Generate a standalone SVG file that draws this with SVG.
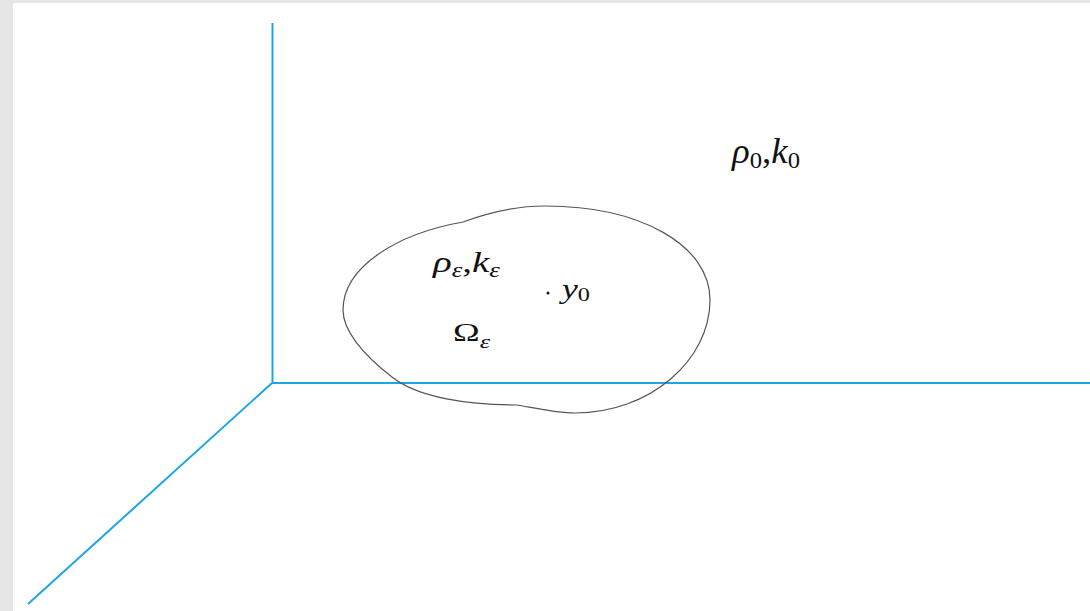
<svg xmlns="http://www.w3.org/2000/svg" width="1090" height="611" viewBox="0 0 1090 611">
<style>
.ax{stroke:#1fa5e0;stroke-width:2;fill:none}
.blob{stroke:#555;stroke-width:1.2;fill:none}
.t{font-family:"Liberation Serif",serif;fill:#111}
.i{font-style:italic}
</style>
<rect width="1090" height="611" fill="#e6e6e6"/>
<rect x="13" y="3" width="1077" height="608" fill="#fff"/>
<g id="axes">
<line class="ax" x1="272.5" y1="23" x2="272.5" y2="383"/>
<line class="ax" x1="272" y1="383" x2="1090" y2="383"/>
<line class="ax" x1="272" y1="383" x2="28" y2="604" stroke-width="1.6"/>
</g>
<g id="region">
<path class="blob" d="M343,310 C343,268 395,234 463,222 C490,212 515,206 545,206 C640,206 710,245 710,300 C710,360 650,413 575,413 C555,413 530,407 517,405 C470,405 418,398 392,377 C362,354 343,330 343,310 Z"/>
</g>
<g id="labels">
<text class="t" x="433" y="272" font-size="29" textLength="67" lengthAdjust="spacingAndGlyphs"><tspan class="i">ρ</tspan><tspan class="i" font-size="20" dy="5">ε</tspan><tspan dy="-5">,</tspan><tspan class="i">k</tspan><tspan class="i" font-size="20" dy="5">ε</tspan></text>
<text class="t" x="453" y="341" font-size="26" textLength="37" lengthAdjust="spacingAndGlyphs">Ω<tspan class="i" font-size="19" dy="7">ε</tspan></text>
<circle cx="548" cy="293" r="1.5" fill="#111"/>
<text class="t" x="562" y="298" font-size="28" textLength="28" lengthAdjust="spacingAndGlyphs"><tspan class="i">y</tspan><tspan font-size="19" dy="3">0</tspan></text>
<text class="t" x="732" y="163" font-size="36" textLength="68" lengthAdjust="spacingAndGlyphs"><tspan class="i">ρ</tspan><tspan font-size="24" dy="5">0</tspan><tspan dy="-5">,</tspan><tspan class="i">k</tspan><tspan font-size="24" dy="5">0</tspan></text>
</g>
</svg>
